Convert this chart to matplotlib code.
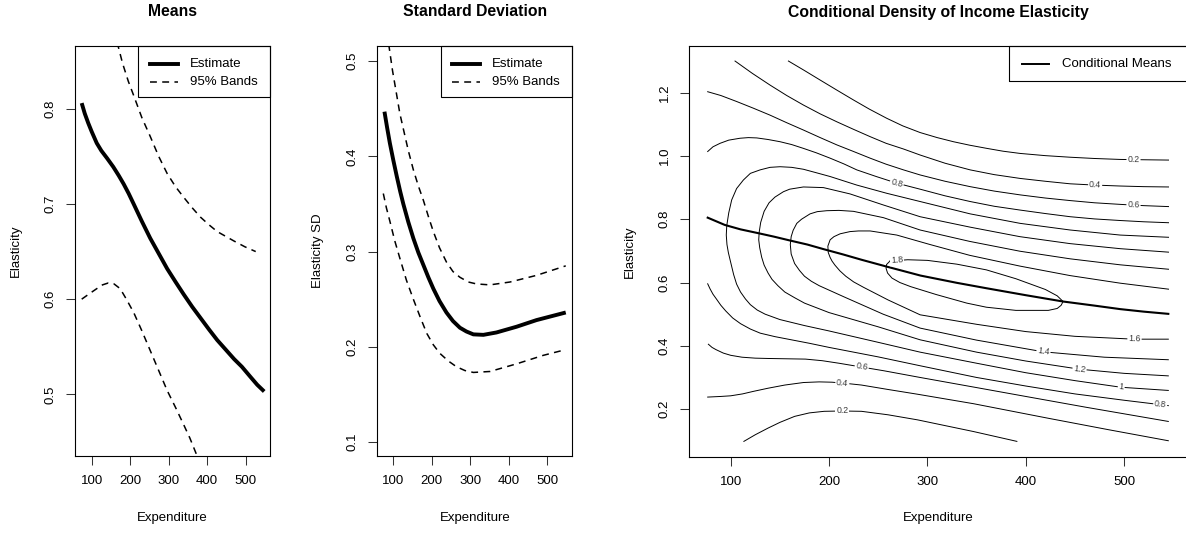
import numpy as np
import matplotlib
matplotlib.use('Agg')
import matplotlib.pyplot as plt
from matplotlib.lines import Line2D
from matplotlib.patches import Rectangle

plt.rcParams['font.family'] = ['Liberation Sans', 'DejaVu Sans']

W, H, DPI = 1186, 533, 100

# ---- panel 1: means ----
mean_x   = [74, 82, 91, 100, 113, 125, 140, 156, 170, 183, 196, 209, 230, 252, 274, 296,
            318, 339, 361, 383, 405, 426, 448, 470, 490, 513, 530, 548]
mean_est = [0.806, 0.795, 0.785, 0.776, 0.764, 0.756, 0.748, 0.739, 0.730, 0.721, 0.711, 0.700,
            0.682, 0.664, 0.648, 0.632, 0.618, 0.605, 0.592, 0.580, 0.568, 0.557, 0.547, 0.537,
            0.529, 0.518, 0.510, 0.503]
mean_up_x = [166, 180, 195, 209, 230, 252, 274, 296, 318, 339, 361, 383, 405, 426, 448, 470, 498, 526]
mean_up_y = [0.870, 0.848, 0.829, 0.814, 0.791, 0.771, 0.750, 0.732, 0.718, 0.707, 0.696, 0.686,
             0.678, 0.671, 0.666, 0.661, 0.655, 0.650]
mean_lo_x = [74, 95, 113, 128, 143, 158, 174, 190, 209, 230, 252, 274, 296, 318, 339, 355, 372]
mean_lo_y = [0.600, 0.606, 0.611, 0.615, 0.617, 0.616, 0.611, 0.600, 0.586, 0.567, 0.546, 0.525,
             0.504, 0.486, 0.468, 0.454, 0.437]

# ---- panel 2: standard deviation ----
sd_x   = [77, 84, 91, 100, 109, 118, 126, 139, 152, 165, 178, 191, 204, 220, 238, 255, 273, 290,
          308, 334, 368, 420, 472, 548]
sd_est = [0.447, 0.430, 0.414, 0.396, 0.379, 0.363, 0.350, 0.331, 0.314, 0.299, 0.286, 0.273,
          0.261, 0.248, 0.236, 0.227, 0.220, 0.216, 0.213, 0.2125, 0.215, 0.221, 0.228, 0.236]
sd_up_x = [88, 98, 109, 117, 126, 139, 152, 165, 178, 191, 204, 220, 238, 255, 273, 295, 316,
           351, 403, 472, 548]
sd_up_y = [0.518, 0.490, 0.464, 0.445, 0.429, 0.406, 0.386, 0.369, 0.354, 0.337, 0.321, 0.304,
           0.289, 0.279, 0.273, 0.268, 0.266, 0.265, 0.268, 0.275, 0.285]
sd_lo_x = [74, 82, 91, 104, 117, 134, 152, 170, 187, 204, 221, 243, 264, 286, 308, 351, 420, 490, 548]
sd_lo_y = [0.361, 0.346, 0.332, 0.311, 0.293, 0.270, 0.250, 0.231, 0.214, 0.202, 0.193, 0.185,
           0.179, 0.175, 0.173, 0.174, 0.182, 0.191, 0.197]

# ---- panel 3: conditional density contours (traced pieces) ----
d02_hi_x = [158.7, 175, 190.9, 208, 224.8, 241, 258.7, 275, 292.6, 310, 326.5, 343, 360.4, 377,
            394.3, 420, 445.2, 470, 496.1, 520, 545.2]
d02_hi_y = [1.300, 1.270, 1.240, 1.208, 1.177, 1.148, 1.119, 1.095, 1.074, 1.058, 1.045, 1.034,
            1.024, 1.015, 1.008, 1.001, 0.996, 0.992, 0.989, 0.988, 0.987]
d04_hi_x = [104.4, 122, 140.0, 157, 173.9, 191, 207.9, 225, 241.8, 258, 275.7, 292.6, 318, 343.5,
            368, 394.3, 420, 445.2, 470, 496.0, 520, 545.2]
d04_hi_y = [1.300, 1.261, 1.224, 1.191, 1.161, 1.133, 1.108, 1.084, 1.061, 1.040, 1.022, 1.003,
            0.977, 0.956, 0.941, 0.929, 0.920, 0.912, 0.908, 0.905, 0.903, 0.902]
d06_hi_x = [76.6, 90, 106.1, 123, 140.0, 157, 173.9, 191, 207.9, 225, 241.8, 258, 275.7, 292.6,
            318, 343.5, 368, 394.3, 420, 445.2, 470, 496.0, 520, 545.2]
d06_hi_y = [1.203, 1.191, 1.172, 1.151, 1.129, 1.105, 1.082, 1.058, 1.035, 1.014, 0.993, 0.974,
            0.956, 0.940, 0.920, 0.903, 0.889, 0.877, 0.867, 0.859, 0.852, 0.847, 0.843, 0.840]
d08_hi_x = [76.6, 82, 89.2, 98, 109.5, 118, 126.5, 138, 150.2, 162, 173.9, 187, 201.1, 215, 228.2,
            248, 268.9, 292.6, 318, 343.5, 368, 394.3, 420, 445.2, 470, 496.1, 520, 545.2]
d08_hi_y = [1.014, 1.029, 1.040, 1.050, 1.056, 1.058, 1.057, 1.052, 1.045, 1.036, 1.024, 1.010,
            0.993, 0.975, 0.956, 0.935, 0.914, 0.895, 0.874, 0.856, 0.841, 0.829, 0.818, 0.808,
            0.801, 0.796, 0.792, 0.789]
d10_x = [545.2, 496.1, 445.2, 394.3, 343.5, 292.6, 258.7, 228.2, 201.1, 187, 173.9, 162, 150.2,
         140, 129.9, 120, 112.9, 106, 101.0, 98, 96, 95.5, 96.2, 97.6, 99.5, 103, 106, 110, 115,
         120, 127, 135, 150, 175, 200, 250, 292.6, 350, 400, 450, 497, 545]
d10_y = [0.743, 0.750, 0.766, 0.787, 0.817, 0.856, 0.882, 0.908, 0.935, 0.947, 0.958, 0.964, 0.966,
         0.964, 0.956, 0.945, 0.924, 0.897, 0.861, 0.820, 0.780, 0.750, 0.720, 0.695, 0.670, 0.625,
         0.595, 0.570, 0.548, 0.530, 0.513, 0.500, 0.483, 0.464, 0.447, 0.411, 0.380, 0.345, 0.315,
         0.290, 0.269, 0.259]
d12_x = [545.2, 496, 445, 394, 343.5, 292.6, 255.3, 221.4, 194.3, 173.9, 160, 153.6, 145, 139,
         134, 130.5, 129, 128.5, 129.5, 131.5, 134, 138, 142, 148, 155, 165, 175, 200, 250, 292.6,
         350, 400, 455, 500, 545]
d12_y = [0.696, 0.707, 0.723, 0.745, 0.775, 0.808, 0.845, 0.880, 0.900, 0.902, 0.895, 0.887, 0.870,
         0.852, 0.825, 0.790, 0.760, 0.735, 0.710, 0.680, 0.655, 0.630, 0.610, 0.590, 0.570, 0.552,
         0.535, 0.505, 0.460, 0.419, 0.380, 0.352, 0.326, 0.313, 0.305]
d14_x = [545.2, 496, 445, 394, 343, 292.6, 255.3, 224.8, 210, 197.7, 188, 180.7, 172, 167.2, 163.5,
         161.5, 160.6, 161.5, 165, 170, 175, 182, 190, 200, 215, 255, 292.6, 350, 418, 480, 545]
d14_y = [0.642, 0.656, 0.675, 0.699, 0.730, 0.766, 0.805, 0.825, 0.828, 0.827, 0.824, 0.817, 0.800,
         0.787, 0.765, 0.745, 0.720, 0.690, 0.660, 0.638, 0.620, 0.604, 0.590, 0.576, 0.555, 0.500,
         0.456, 0.418, 0.381, 0.364, 0.356]
d16_x = [545.2, 496, 445, 394, 343, 302.8, 268.9, 241.8, 230, 221.4, 211.3, 205, 201.1, 198.8,
         199.2, 201, 203, 206, 211, 217, 225, 235, 260, 292.6, 350, 400, 450, 510, 545]
d16_y = [0.579, 0.598, 0.622, 0.652, 0.686, 0.720, 0.750, 0.763, 0.763, 0.761, 0.754, 0.745, 0.735,
         0.715, 0.695, 0.680, 0.668, 0.655, 0.637, 0.620, 0.602, 0.585, 0.545, 0.498, 0.468, 0.445,
         0.430, 0.421, 0.421]
d18_x = [262, 280, 300, 330, 360, 390, 420, 432, 438, 436, 432, 423, 390, 360, 340, 309, 283, 272,
         264, 259.5, 258, 258.5, 262]
d18_y = [0.668, 0.672, 0.670, 0.658, 0.640, 0.612, 0.578, 0.558, 0.540, 0.528, 0.518, 0.512, 0.512,
         0.522, 0.535, 0.562, 0.587, 0.600, 0.614, 0.630, 0.645, 0.657, 0.668]
d08_lo_x = [76.6, 79, 82, 85, 90, 95, 102, 110, 120, 130, 145, 160, 180, 200, 250, 292.6, 350, 400,
            450, 500, 545]
d08_lo_y = [0.596, 0.580, 0.563, 0.550, 0.528, 0.510, 0.488, 0.470, 0.453, 0.440, 0.429, 0.420,
            0.408, 0.395, 0.365, 0.337, 0.300, 0.273, 0.248, 0.228, 0.211]
d06_lo_x = [77.3, 81, 85, 92.5, 100, 111.5, 125, 138, 157, 176, 193, 210, 233, 256, 292.6, 350, 400,
            461, 545]
d06_lo_y = [0.405, 0.395, 0.388, 0.377, 0.370, 0.364, 0.361, 0.360, 0.359, 0.358, 0.353, 0.345,
            0.333, 0.321, 0.300, 0.268, 0.240, 0.206, 0.161]
d04_lo_x = [76.6, 90, 100, 112, 123, 138, 155, 174, 190, 203, 218, 233, 260, 290, 347, 423, 484, 545]
d04_lo_y = [0.238, 0.240, 0.242, 0.248, 0.256, 0.266, 0.276, 0.284, 0.286, 0.285, 0.281, 0.276,
            0.262, 0.247, 0.217, 0.171, 0.135, 0.100]
d02_lo_x = [113.4, 125, 138, 150, 165, 180, 195, 213, 233, 260, 290, 347, 391]
d02_lo_y = [0.098, 0.119, 0.140, 0.158, 0.177, 0.188, 0.193, 0.194, 0.193, 0.182, 0.166, 0.129, 0.098]

cm_x = [76.6, 94, 110, 128, 144, 160, 178, 195, 214, 233, 259, 293, 330, 360, 400, 438, 470, 496,
        520, 545]
cm_y = [0.805, 0.782, 0.768, 0.756, 0.745, 0.733, 0.720, 0.705, 0.689, 0.672, 0.650, 0.622, 0.599,
        0.582, 0.560, 0.540, 0.527, 0.516, 0.508, 0.501]

contours = {
    'd02_hi': (d02_hi_x, d02_hi_y), 'd04_hi': (d04_hi_x, d04_hi_y),
    'd06_hi': (d06_hi_x, d06_hi_y), 'd08_hi': (d08_hi_x, d08_hi_y),
    'd10': (d10_x, d10_y), 'd12': (d12_x, d12_y), 'd14': (d14_x, d14_y),
    'd16': (d16_x, d16_y), 'd18': (d18_x, d18_y),
    'd08_lo': (d08_lo_x, d08_lo_y), 'd06_lo': (d06_lo_x, d06_lo_y),
    'd04_lo': (d04_lo_x, d04_lo_y), 'd02_lo': (d02_lo_x, d02_lo_y),
}
# (text, curve, x, y)
contour_labels = [
    ('0.2', 'd02_hi', 509.6, 0.988), ('0.4', 'd04_hi', 470.6, 0.908),
    ('0.6', 'd06_hi', 509.6, 0.845), ('0.8', 'd08_hi', 268.9, 0.914),
    ('1.8', 'd18', 269.0, 0.670),
    ('1.6', 'd16', 510.6, 0.421), ('1.4', 'd14', 418.0, 0.381),
    ('1.2', 'd12', 454.7, 0.326), ('1', 'd10', 497.1, 0.269),
    ('0.8', 'd08_lo', 536.8, 0.214), ('0.6', 'd06_lo', 233.2, 0.333),
    ('0.4', 'd04_lo', 213.5, 0.282), ('0.2', 'd02_lo', 213.5, 0.194),
]

x_ticks = [100, 200, 300, 400, 500]

fig = plt.figure(figsize=(W / DPI, H / DPI), dpi=DPI)


def px_axes(left, top, right, bottom):
    return fig.add_axes([left / W, 1 - bottom / H, (right - left) / W, (bottom - top) / H])


def fx(px):
    return px / W


def fy(py):
    return 1 - py / H


def r_axes(ax, xlim, ylim, yticks, ylabels, title, ylabel, left, right, top, bottom):
    ax.set_xlim(xlim)
    ax.set_ylim(ylim)
    ax.set_xticks(x_ticks)
    ax.set_xticklabels([str(t) for t in x_ticks])
    ax.set_yticks(yticks)
    ax.set_yticklabels(ylabels, rotation=90, va='center')
    ax.tick_params(direction='out', length=6.5, width=0.75, labelsize=9.5, color='#333333')
    ax.tick_params(axis='x', pad=7.5)
    ax.tick_params(axis='y', pad=7)
    for s in ax.spines.values():
        s.set_linewidth(0.8)
    cx = (left + right) / 2
    fig.text(fx(cx), fy(12), title, ha='center', va='center', fontsize=11.3, fontweight='bold')
    fig.text(fx(cx), fy(518), 'Expenditure', ha='center', va='center', fontsize=9.5)
    fig.text(fx(left - 59), fy((top + bottom) / 2), ylabel, ha='center', va='center',
             rotation=90, fontsize=9.5)


def legend_box(left, top, right, bottom, entries, lx0, lx1, tx, rows):
    fig.add_artist(Rectangle((fx(left), fy(bottom)), fx(right) - fx(left), fy(top) - fy(bottom),
                             transform=fig.transFigure, fill=False, lw=0.8, ec='black'))
    for (label, lw, ls), ry in zip(entries, rows):
        fig.add_artist(Line2D([fx(lx0), fx(lx1)], [fy(ry), fy(ry)], transform=fig.transFigure,
                              color='black', lw=lw, linestyle=ls))
        fig.text(fx(tx), fy(ry), label, ha='left', va='center', fontsize=9.5)


DASH = (0, (4.5, 3.5))

# panel 1
ax1 = px_axes(75, 46, 270, 456)
ax1.plot(mean_x, mean_est, color='black', lw=2.8, solid_capstyle='butt', solid_joinstyle='round')
ax1.plot(mean_up_x, mean_up_y, color='black', lw=1.1, linestyle=DASH)
ax1.plot(mean_lo_x, mean_lo_y, color='black', lw=1.1, linestyle=DASH)
r_axes(ax1, (56.6, 563.1), (0.4352, 0.866), [0.5, 0.6, 0.7, 0.8], ['0.5', '0.6', '0.7', '0.8'],
       'Means', 'Elasticity', 75, 270, 46, 456)
legend_box(138.3, 46, 270, 97.5, [('Estimate', 2.8, '-'), ('95% Bands', 1.1, DASH)],
           150, 178.3, 190, [64, 81.6])

# panel 2
ax2 = px_axes(377.3, 46, 572.3, 456)
ax2.plot(sd_x, sd_est, color='black', lw=2.8, solid_capstyle='butt', solid_joinstyle='round')
ax2.plot(sd_up_x, sd_up_y, color='black', lw=1.1, linestyle=DASH)
ax2.plot(sd_lo_x, sd_lo_y, color='black', lw=1.1, linestyle=DASH)
r_axes(ax2, (58.4, 565.0), (0.0852, 0.516), [0.1, 0.2, 0.3, 0.4, 0.5], ['0.1', '0.2', '0.3', '0.4', '0.5'],
       'Standard Deviation', 'Elasticity SD', 377.3, 572.3, 46, 456)
legend_box(440.7, 46, 572.3, 97.5, [('Estimate', 2.8, '-'), ('95% Bands', 1.1, DASH)],
           451.7, 480, 491.7, [64, 81.6])

# panel 3
ax3 = px_axes(689.3, 46, 1187, 456.5)
r_axes(ax3, (57.9, 564.0), (0.0502, 1.3475), [0.2, 0.4, 0.6, 0.8, 1.0, 1.2],
       ['0.2', '0.4', '0.6', '0.8', '1.0', '1.2'],
       'Conditional Density of Income Elasticity', 'Elasticity', 689.3, 1187, 46, 456.5)
for name, (cx_, cy_) in contours.items():
    ax3.plot(cx_, cy_, color='black', lw=0.7, zorder=2, solid_joinstyle='round')
ax3.plot(cm_x, cm_y, color='black', lw=1.5, zorder=3, solid_joinstyle='round')


def label_angle(ax, xs, ys, x0, y0):
    pts = ax.transData.transform(np.column_stack([xs, ys]))
    p0 = ax.transData.transform((x0, y0))
    d = np.hypot(pts[:, 0] - p0[0], pts[:, 1] - p0[1])
    i = int(np.argmin(d))
    j, k = max(i - 1, 0), min(i + 1, len(xs) - 1)
    dx, dy = pts[k] - pts[j]
    ang = np.degrees(np.arctan2(dy, dx))
    if ang > 90:
        ang -= 180
    if ang < -90:
        ang += 180
    return ang


for txt, name, lx, ly in contour_labels:
    xs, ys = contours[name]
    ang = label_angle(ax3, xs, ys, lx, ly)
    ax3.text(lx, ly, txt, fontsize=6.3, color='#3a3a3a', ha='center', va='center',
             rotation=ang, rotation_mode='anchor', zorder=4,
             bbox=dict(fc='white', ec='none', pad=0.7))

legend_box(1009, 45.7, 1195, 80.7, [('Conditional Means', 1.4, '-')], 1021.7, 1049, 1061.7, [64])

fig.savefig('out.png', dpi=DPI)
